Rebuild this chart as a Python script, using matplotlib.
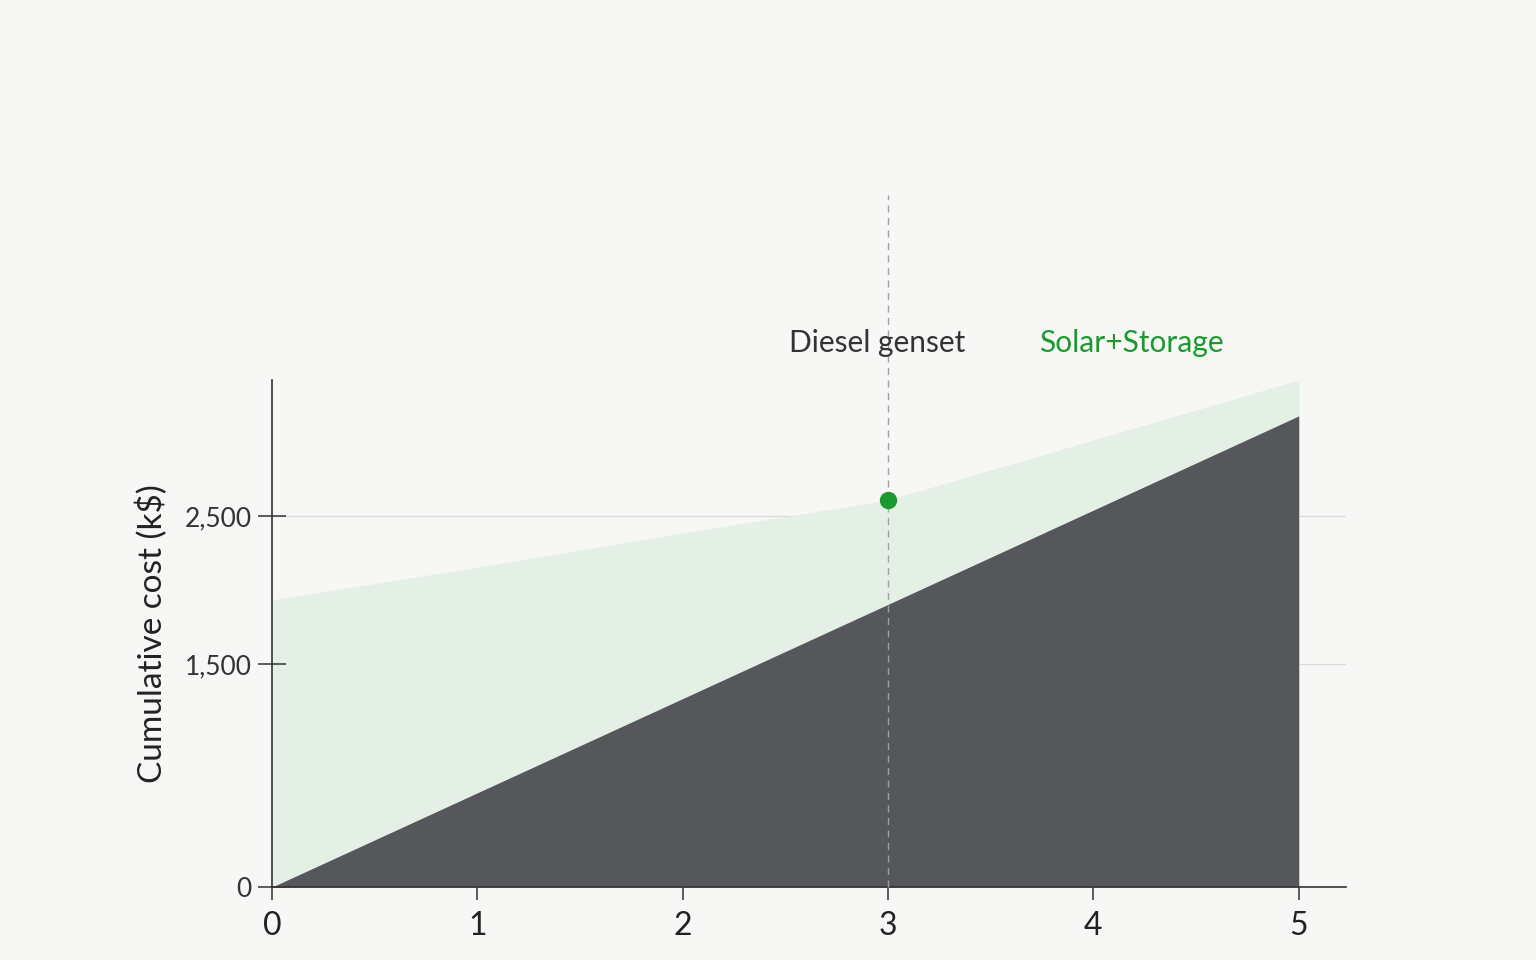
import matplotlib
matplotlib.use("Agg")
import matplotlib.pyplot as plt

# Cumulative cost over years (k$)
years = [0, 1, 2, 3, 4, 5]
diesel = [0, 635, 1270, 1905, 2540, 3175]
solar = [1935, 2155, 2385, 2608, 3012, 3417]
yticks = [0, 1500, 2500]
ytick_labels = ["0", "1,500", "2,500"]
crossover_year = 3
crossover_cost = 2608

BG = "#f7f7f6"
GREEN = "#1a9a2e"


def main():
    plt.rcParams["font.family"] = ["Lato", "DejaVu Sans"]
    fig = plt.figure(figsize=(15.36, 9.6), dpi=100, facecolor=BG)
    ax = fig.add_axes([0.1771, 0.076, 0.6992, 0.5282])
    ax.set_facecolor(BG)

    ax.fill_between(years, 0, solar, color="#e4efe6", linewidth=0, zorder=1)
    ax.fill_between(years, 0, diesel, color="#56575a", linewidth=0, zorder=2)

    ax.set_xlim(0, 5.23)
    ax.set_ylim(0, 3417)

    for v in yticks[1:]:
        ax.axhline(v, color="#dadada", linewidth=0.9, zorder=0.5)

    # vertical marker at payback year, running above the plot
    ax.axvline(crossover_year, ymin=0, ymax=1.365, color="#a0a0a0",
               linestyle=(0, (5, 4)), linewidth=1.0, clip_on=False, zorder=3)
    ax.plot([crossover_year], [crossover_cost], "o", color=GREEN,
            markersize=11.5, zorder=4, clip_on=False)

    ax.text(2.945, 1.073, "Diesel genset", transform=ax.get_xaxis_transform(),
            ha="center", va="center", fontsize=21.5, color="#333333")
    ax.text(4.187, 1.073, "Solar+Storage", transform=ax.get_xaxis_transform(),
            ha="center", va="center", fontsize=21.5, color=GREEN)

    ax.set_xticks(years)
    ax.set_xticklabels([str(y) for y in years])
    ax.set_yticks(yticks)
    ax.set_yticklabels(ytick_labels)
    ax.tick_params(axis="x", direction="out", length=9, width=1.1,
                   color="#333333", labelsize=23, labelcolor="#222222", pad=8)
    ax.tick_params(axis="y", direction="inout", length=19.5, width=1.1,
                   color="#333333", labelsize=19, labelcolor="#333333", pad=5)

    ax.set_ylabel("Cumulative cost (k$)", fontsize=24, color="#222222",
                  labelpad=12)

    for s in ["top", "right"]:
        ax.spines[s].set_visible(False)
    for s in ["left", "bottom"]:
        ax.spines[s].set_color("#333333")
        ax.spines[s].set_linewidth(1.2)

    fig.savefig("out.png", dpi=100, facecolor=BG)
    plt.close(fig)


if __name__ == "__main__":
    main()
